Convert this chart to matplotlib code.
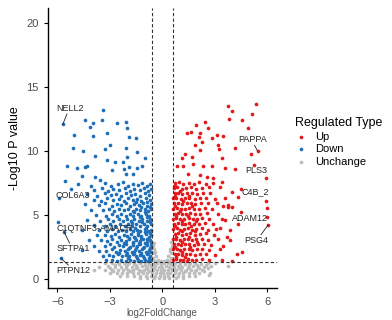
import matplotlib
matplotlib.use("Agg")
import matplotlib.pyplot as plt
import numpy as np

plt.rcParams['font.family'] = ['Liberation Sans', 'DejaVu Sans']

# thresholds
fc_cut = 0.585
p_cut = 1.3

# Down regulated points (log2FC, -log10 p)
down_pts = [
    (-5.69, 12.1), (-3.37, 13.2), (-4.42, 12.4), (-3.94, 12.2), (-4.13, 11.9), (-3.43, 12.4),
    (-2.61, 12.2), (-2.07, 12.3), (-2.0, 11.8), (-5.05, 11.25), (-3.94, 11.2), (-3.14, 11.45),
    (-1.89, 11.1), (-1.5, 11.0), (-5.12, 10.2), (-4.51, 10.0), (-2.99, 10.5), (-3.26, 10.15),
    (-2.07, 10.2), (-1.46, 9.95), (-3.85, 9.6), (-2.0, 9.53), (-0.99, 9.43), (-5.43, 8.8),
    (-4.89, 8.65), (-4.42, 8.75), (-3.18, 9.27), (-2.7, 9.17), (-2.23, 9.17), (-1.89, 8.75),
    (-2.19, 8.6), (-1.46, 8.65), (-1.16, 8.8), (-2.89, 8.5), (-2.07, 8.2), (-1.69, 8.22),
    (-4.61, 8.02), (-3.85, 7.97), (-3.56, 7.7), (-5.56, 7.66), (-4.29, 8.8),
    (-4.8, 7.45), (-4.1, 7.3), (-3.3, 7.5), (-2.95, 7.25), (-2.55, 7.4), (-2.25, 7.55),
    (-1.95, 7.3), (-1.7, 7.45), (-1.4, 7.35), (-1.15, 7.5), (-0.9, 7.3), (-0.7, 7.45),
    (-5.2, 7.05), (-3.9, 6.95), (-3.45, 7.1), (-3.1, 6.9), (-2.8, 7.05), (-2.45, 6.95),
    (-2.15, 7.1), (-1.85, 6.9), (-1.6, 7.05), (-1.3, 6.95), (-1.05, 7.1), (-0.8, 6.9), (-0.65, 7.05),
    (-4.3, 6.6), (-3.75, 6.5), (-3.3, 6.7), (-2.95, 6.55), (-2.65, 6.65), (-2.35, 6.5),
    (-2.05, 6.7), (-1.8, 6.55), (-1.55, 6.65), (-1.25, 6.5), (-1.0, 6.7), (-0.75, 6.55),
    (-5.9, 6.3), (-3.9, 6.2), (-3.5, 6.1), (-3.15, 6.3), (-2.8, 6.15), (-2.5, 6.25), (-2.2, 6.1),
    (-1.95, 6.3), (-1.7, 6.15), (-1.45, 6.25), (-1.2, 6.1), (-0.95, 6.3), (-0.7, 6.15),
    (-4.4, 5.85), (-3.6, 5.75), (-3.25, 5.9), (-2.9, 5.7), (-2.6, 5.85), (-2.35, 5.75),
    (-2.1, 5.9), (-1.85, 5.7), (-1.6, 5.85), (-1.35, 5.75), (-1.1, 5.9), (-0.85, 5.7), (-0.65, 5.85),
    (-4.1, 5.4), (-3.4, 5.35), (-3.05, 5.5), (-2.75, 5.3), (-2.45, 5.45), (-2.2, 5.35),
    (-1.95, 5.5), (-1.7, 5.3), (-1.5, 5.45), (-1.25, 5.35), (-1.0, 5.5), (-0.8, 5.3), (-0.62, 5.45),
    (-3.8, 5.0), (-3.2, 4.95), (-2.9, 5.1), (-2.6, 4.9), (-2.35, 5.05), (-2.1, 4.95),
    (-1.85, 5.1), (-1.65, 4.9), (-1.4, 5.05), (-1.2, 4.95), (-0.95, 5.1), (-0.75, 4.9),
    (-5.98, 4.48), (-4.3, 4.6), (-3.55, 4.55), (-3.1, 4.7), (-2.8, 4.5), (-2.5, 4.65),
    (-2.25, 4.55), (-2.0, 4.7), (-1.8, 4.5), (-1.6, 4.65), (-1.35, 4.55), (-1.15, 4.7),
    (-0.9, 4.5), (-0.68, 4.65),
    (-3.9, 4.2), (-3.3, 4.15), (-3.0, 4.3), (-2.7, 4.1), (-2.4, 4.25), (-2.15, 4.15),
    (-1.95, 4.3), (-1.75, 4.1), (-1.5, 4.25), (-1.3, 4.15), (-1.05, 4.3), (-0.85, 4.1), (-0.63, 4.25),
    (-4.6, 3.85), (-3.6, 3.8), (-3.15, 3.75), (-2.85, 3.9), (-2.55, 3.7), (-2.3, 3.85),
    (-2.05, 3.75), (-1.85, 3.9), (-1.65, 3.7), (-1.45, 3.85), (-1.25, 3.75), (-1.0, 3.9),
    (-0.8, 3.7), (-0.62, 3.85),
    (-5.62, 3.67), (-3.75, 3.4), (-3.3, 3.45), (-2.95, 3.35), (-2.7, 3.5), (-2.45, 3.3),
    (-2.2, 3.45), (-2.0, 3.35), (-1.8, 3.5), (-1.6, 3.3), (-1.4, 3.45), (-1.2, 3.35),
    (-0.95, 3.5), (-0.75, 3.3), (-0.62, 3.45),
    (-4.2, 3.0), (-3.5, 3.05), (-3.15, 2.95), (-2.85, 3.1), (-2.6, 2.9), (-2.35, 3.05),
    (-2.1, 2.95), (-1.9, 3.1), (-1.7, 2.9), (-1.5, 3.05), (-1.3, 2.95), (-1.1, 3.1),
    (-0.9, 2.9), (-0.7, 3.05),
    (-3.9, 2.6), (-3.3, 2.55), (-3.0, 2.7), (-2.75, 2.5), (-2.5, 2.65), (-2.25, 2.55),
    (-2.05, 2.7), (-1.85, 2.5), (-1.65, 2.65), (-1.45, 2.55), (-1.25, 2.7), (-1.05, 2.5),
    (-0.85, 2.65), (-0.65, 2.55),
    (-4.6, 2.25), (-3.6, 2.2), (-3.2, 2.15), (-2.9, 2.3), (-2.65, 2.1), (-2.4, 2.25),
    (-2.15, 2.15), (-1.95, 2.3), (-1.75, 2.1), (-1.55, 2.25), (-1.35, 2.15), (-1.15, 2.3),
    (-0.95, 2.1), (-0.75, 2.25), (-0.62, 2.1),
    (-3.4, 1.8), (-3.05, 1.85), (-2.8, 1.75), (-2.55, 1.9), (-2.3, 1.8), (-2.1, 1.85),
    (-1.9, 1.75), (-1.7, 1.9), (-1.5, 1.8), (-1.3, 1.85), (-1.1, 1.75), (-0.9, 1.9), (-0.7, 1.8),
    (-5.8, 1.6), (-3.2, 1.45), (-2.9, 1.5), (-2.6, 1.4), (-2.35, 1.5), (-2.1, 1.4),
    (-1.85, 1.5), (-1.6, 1.4), (-1.4, 1.5), (-1.2, 1.4), (-1.0, 1.5), (-0.8, 1.4), (-0.64, 1.5),
    (-1.75, 4.4), (-1.55, 4.0), (-1.15, 4.45), (-0.95, 4.0), (-0.72, 4.45), (-1.4, 3.6),
    (-1.0, 3.65), (-0.7, 3.6), (-1.9, 3.2), (-1.55, 3.2), (-1.2, 3.2), (-0.85, 3.15),
    (-0.65, 2.8), (-1.0, 2.8), (-1.35, 2.8), (-1.7, 2.8), (-2.2, 2.8), (-0.7, 2.4),
    (-1.1, 2.4), (-1.5, 2.4), (-1.9, 2.4), (-0.8, 2.0), (-1.2, 2.0), (-1.6, 2.0),
    (-2.0, 2.0), (-2.5, 2.0), (-0.75, 1.62), (-1.05, 1.62), (-1.45, 1.62), (-1.95, 1.62),
    (-0.9, 4.8), (-1.3, 4.8), (-1.0, 5.2), (-1.6, 5.2), (-0.7, 5.6), (-1.2, 5.6),
    (-0.9, 6.0), (-1.5, 6.0),
]

# Up regulated points
up_pts = [
    (5.39, 13.7), (3.77, 13.5), (3.97, 13.1), (5.13, 12.9), (3.83, 12.5), (4.54, 12.4),
    (4.91, 11.8), (1.93, 12.0), (2.44, 12.3), (2.63, 11.8), (1.39, 11.45), (1.62, 11.5),
    (2.15, 11.45), (2.82, 11.0), (3.11, 11.25), (3.49, 11.2), (2.1, 11.1), (1.85, 10.5),
    (2.25, 10.7), (3.2, 10.5), (4.15, 10.2), (2.15, 10.05), (1.3, 9.74), (1.68, 9.53),
    (1.11, 9.43), (3.26, 10.15), (5.45, 10.0), (5.1, 9.8), (3.39, 9.43), (0.82, 8.8),
    (1.2, 8.85), (1.77, 9.0), (2.34, 8.85), (2.82, 8.85), (4.15, 8.6), (3.58, 8.65),
    (5.26, 8.9), (5.91, 7.87), (1.49, 8.22), (2.15, 8.13), (2.54, 7.97), (2.91, 7.92),
    (3.39, 7.55), (4.5, 7.0), (4.0, 6.82), (4.34, 6.43), (5.91, 6.12), (5.97, 5.52),
    (3.74, 5.6), (4.0, 5.6), (4.5, 5.26), (6.02, 4.82), (6.06, 4.22), (4.34, 4.3),
    (3.87, 3.83), (3.68, 3.3), (3.3, 7.2), (3.49, 5.7), (3.77, 5.76), (3.11, 5.91), (2.54, 5.13),
    (4.54, 2.13), (3.97, 1.35), (4.25, 1.9), (3.5, 2.6), (3.9, 3.0), (3.3, 4.0), (3.6, 4.6),
    (0.7, 7.5), (0.95, 7.55), (1.2, 7.45), (1.5, 7.5), (1.8, 7.4), (2.1, 7.55), (2.5, 7.45), (2.9, 7.5),
    (0.65, 7.1), (0.85, 7.15), (1.1, 7.05), (1.35, 7.1), (1.65, 7.15), (1.95, 7.05), (2.3, 7.1),
    (2.7, 7.15),
    (0.7, 6.7), (0.9, 6.75), (1.15, 6.65), (1.4, 6.7), (1.7, 6.75), (2.0, 6.65), (2.35, 6.7), (2.75, 6.75),
    (0.62, 6.3), (0.8, 6.35), (1.05, 6.25), (1.3, 6.3), (1.55, 6.35), (1.85, 6.25), (2.15, 6.3),
    (2.5, 6.35), (3.0, 6.25), (3.6, 6.3),
    (0.68, 5.9), (0.9, 5.95), (1.15, 5.85), (1.4, 5.9), (1.65, 5.95), (1.9, 5.85), (2.2, 5.9), (2.6, 5.95),
    (0.63, 5.5), (0.82, 5.55), (1.05, 5.45), (1.3, 5.5), (1.55, 5.55), (1.8, 5.45), (2.1, 5.5), (2.45, 5.55),
    (2.85, 5.45),
    (0.7, 5.1), (0.9, 5.15), (1.1, 5.05), (1.35, 5.1), (1.6, 5.15), (1.85, 5.05), (2.15, 5.1), (3.2, 5.1),
    (0.62, 4.7), (0.8, 4.75), (1.0, 4.65), (1.25, 4.7), (1.5, 4.75), (1.75, 4.65), (2.0, 4.7),
    (2.3, 4.75), (2.7, 4.65), (3.4, 4.7),
    (0.68, 4.3), (0.88, 4.35), (1.1, 4.25), (1.3, 4.3), (1.55, 4.35), (1.8, 4.25), (2.1, 4.3),
    (2.45, 4.35), (2.9, 4.25),
    (0.63, 3.9), (0.82, 3.95), (1.02, 3.85), (1.25, 3.9), (1.48, 3.95), (1.7, 3.85), (1.95, 3.9),
    (2.25, 3.95), (2.6, 3.85), (3.1, 3.9),
    (0.7, 3.5), (0.9, 3.55), (1.1, 3.45), (1.35, 3.5), (1.6, 3.55), (1.85, 3.45), (2.15, 3.5),
    (2.5, 3.55), (2.95, 3.45),
    (0.62, 3.1), (0.8, 3.15), (1.0, 3.05), (1.22, 3.1), (1.45, 3.15), (1.7, 3.05), (1.95, 3.1),
    (2.25, 3.15), (2.6, 3.05), (3.2, 3.1),
    (0.68, 2.7), (0.88, 2.75), (1.08, 2.65), (1.3, 2.7), (1.55, 2.75), (1.8, 2.65), (2.05, 2.7),
    (2.4, 2.75), (2.8, 2.65),
    (0.63, 2.3), (0.82, 2.35), (1.02, 2.25), (1.25, 2.3), (1.5, 2.35), (1.72, 2.25), (1.98, 2.3),
    (2.3, 2.35), (2.7, 2.25), (3.3, 2.3),
    (0.7, 1.9), (0.9, 1.95), (1.1, 1.85), (1.35, 1.9), (1.6, 1.95), (1.85, 1.85), (2.15, 1.9),
    (2.5, 1.95), (3.0, 1.85),
    (0.62, 1.5), (0.8, 1.55), (1.0, 1.45), (1.2, 1.5), (1.45, 1.55), (1.7, 1.45), (1.95, 1.5),
    (2.3, 1.55), (2.7, 1.45), (3.39, 1.48),
    (0.75, 7.3), (1.0, 6.9), (0.75, 6.5), (1.2, 6.1), (0.75, 5.7), (1.0, 5.3), (0.8, 4.9),
    (1.15, 4.5), (0.75, 4.1), (1.15, 3.7), (0.8, 3.3), (1.1, 2.9), (0.75, 2.5), (1.15, 2.1),
    (0.8, 1.7), (1.3, 1.7), (1.6, 2.5), (1.5, 3.3), (1.65, 4.1), (1.45, 4.9), (1.7, 5.7),
    (1.5, 6.5), (1.9, 3.7), (2.0, 2.9), (1.95, 4.5), (1.4, 1.35),
]

# Unchanged points
same_pts = [
    (-3.3, 1.2), (-2.9, 1.22), (-2.5, 1.18), (-2.2, 1.2), (-1.9, 1.22), (-1.6, 1.18), (-1.3, 1.2),
    (-1.0, 1.22), (-0.75, 1.18), (-0.5, 1.2), (-0.3, 1.22), (-0.1, 1.18), (0.1, 1.2), (0.3, 1.22),
    (0.5, 1.18), (0.75, 1.2), (1.0, 1.22), (1.3, 1.18), (1.6, 1.2), (1.9, 1.22), (2.2, 1.18),
    (2.6, 1.2), (3.0, 1.22),
    (-3.6, 0.95), (-3.1, 0.97), (-2.7, 0.93), (-2.35, 0.95), (-2.05, 0.97), (-1.75, 0.93),
    (-1.45, 0.95), (-1.15, 0.97), (-0.9, 0.93), (-0.65, 0.95), (-0.4, 0.97), (-0.2, 0.93),
    (0.0, 0.95), (0.2, 0.97), (0.4, 0.93), (0.65, 0.95), (0.9, 0.97), (1.15, 0.93), (1.45, 0.95),
    (1.75, 0.97), (2.05, 0.93), (2.4, 0.95), (2.8, 0.97), (3.77, 1.0),
    (-3.9, 0.7), (-3.3, 0.72), (-2.9, 0.68), (-2.55, 0.7), (-2.25, 0.72), (-1.95, 0.68),
    (-1.65, 0.7), (-1.35, 0.72), (-1.05, 0.68), (-0.8, 0.7), (-0.55, 0.72), (-0.3, 0.68),
    (-0.1, 0.7), (0.1, 0.72), (0.3, 0.68), (0.55, 0.7), (0.8, 0.72), (1.05, 0.68), (1.35, 0.7),
    (1.65, 0.72), (1.95, 0.68), (2.3, 0.7), (2.73, 0.45),
    (-3.0, 0.45), (-2.6, 0.47), (-2.3, 0.43), (-2.0, 0.45), (-1.7, 0.47), (-1.4, 0.43),
    (-1.1, 0.45), (-0.85, 0.47), (-0.6, 0.43), (-0.35, 0.45), (-0.15, 0.47), (0.05, 0.43),
    (0.25, 0.45), (0.45, 0.47), (0.7, 0.43), (0.95, 0.45), (1.2, 0.47), (1.5, 0.43), (1.8, 0.45),
    (2.1, 0.47), (2.69, 0.31),
    (-2.4, 0.2), (-2.0, 0.22), (-1.6, 0.18), (-1.25, 0.2), (-0.95, 0.22), (-0.65, 0.18),
    (-0.4, 0.2), (-0.15, 0.22), (0.1, 0.18), (0.35, 0.2), (0.6, 0.22), (0.9, 0.18), (1.2, 0.2),
    (1.55, 0.22), (1.9, 0.18),
    (-1.3, 0.05), (-0.9, 0.04), (-0.5, 0.06), (-0.2, 0.05), (0.1, 0.04), (0.4, 0.06), (0.8, 0.05),
    (1.2, 0.04),
    (-2.7, 1.08), (-2.0, 1.08), (-1.5, 1.08), (-1.0, 1.08), (-0.6, 1.08), (0.6, 1.08), (1.0, 1.08),
    (1.5, 1.08), (2.0, 1.08), (2.5, 1.08),
    (-3.0, 0.82), (-2.1, 0.82), (-1.5, 0.82), (-0.95, 0.82), (-0.45, 0.82), (0.45, 0.82),
    (0.95, 0.82), (1.5, 0.82), (2.1, 0.82), (2.6, 0.82),
    (-2.8, 0.58), (-1.85, 0.58), (-1.2, 0.58), (-0.7, 0.58), (0.0, 0.58), (0.7, 0.58), (1.3, 0.58),
    (1.85, 0.58), (2.4, 0.58),
    (-0.55, 2.6), (-0.45, 2.3), (-0.5, 2.0), (-0.35, 1.8), (-0.52, 1.6), (-0.25, 1.5), (-0.4, 1.4),
    (0.55, 2.6), (0.45, 2.35), (0.5, 2.0), (0.35, 1.75), (0.52, 1.6), (0.25, 1.5), (0.4, 1.4),
    (-0.1, 1.35), (0.1, 1.4), (-0.5, 2.8), (0.5, 2.85), (-0.42, 2.1), (0.42, 2.15),
]

# gene labels: name, point, text position, draw connector
gene_names = ["NELL2", "COL6A3", "C1QTNF3-AMACR", "SFTPA1", "PTPN12",
              "PAPPA", "PLS3", "C4B_2", "ADAM12", "PSG4"]
gene_pts = [(-5.69, 12.1), (-5.9, 6.3), (-5.98, 4.48), (-5.62, 3.67), (-5.8, 1.6),
            (5.45, 10.0), (5.91, 7.87), (4.5, 7.0), (6.02, 4.82), (6.06, 4.22)]
gene_txt = [(-5.3, 13.35), (-5.1, 6.55), (-3.87, 3.9), (-5.1, 2.34), (-5.1, 0.62),
            (5.17, 10.9), (5.4, 8.5), (5.33, 6.8), (5.0, 4.75), (5.38, 3.0)]
gene_seg = [True, False, False, True, True, True, False, False, False, True]

col_up = "#E31A1C"
col_down = "#1F6FB8"
col_same = "#BDBDBD"

down = np.array(down_pts)
up = np.array(up_pts)
same = np.array(same_pts)

fig = plt.figure(figsize=(3.92, 3.2), dpi=100)
ax = fig.add_axes([0.122, 0.101, 0.584, 0.874])

ax.scatter(same[:, 0], same[:, 1], s=7, c=col_same, linewidths=0, zorder=2)
ax.scatter(down[:, 0], down[:, 1], s=7, c=col_down, linewidths=0, zorder=3)
ax.scatter(up[:, 0], up[:, 1], s=7, c=col_up, linewidths=0, zorder=3)

for xv in (-fc_cut, fc_cut):
    ax.axvline(xv, color="#333333", lw=0.8, ls=(0, (3, 2)), zorder=4)
ax.axhline(p_cut, color="#333333", lw=0.8, ls=(0, (3, 2)), zorder=4)

for name, p, t, seg in zip(gene_names, gene_pts, gene_txt, gene_seg):
    ax.text(t[0], t[1], name, fontsize=6.5, color="#222222", ha="center", va="center", zorder=5)
    if seg:
        ty = t[1] - 0.45 if p[1] < t[1] else t[1] + 0.45
        ax.plot([t[0] + (p[0] - t[0]) * 0.4, p[0]], [ty, p[1]], color="#222222", lw=0.6, zorder=5)

ax.set_xlim(-6.55, 6.55)
ax.set_ylim(-0.7, 21.2)
ax.set_xticks([-6, -3, 0, 3, 6])
ax.set_yticks([0, 5, 10, 15, 20])
for s in ("top", "right"):
    ax.spines[s].set_visible(False)
for s in ("left", "bottom"):
    ax.spines[s].set_linewidth(1.0)
ax.tick_params(labelsize=8, labelcolor="#4D4D4D", length=3, width=0.8)
ax.set_ylabel("-Log10 P value", fontsize=9, labelpad=4)
ax.set_xlabel("log2FoldChange", fontsize=7, color="#555555", labelpad=1)

h1 = ax.scatter([], [], s=7, c=col_up, linewidths=0)
h2 = ax.scatter([], [], s=7, c=col_down, linewidths=0)
h3 = ax.scatter([], [], s=7, c=col_same, linewidths=0)
leg = ax.legend([h1, h2, h3], ["Up", "Down", "Unchange"], title="Regulated Type",
                loc="upper left", bbox_to_anchor=(0.752, 0.635), bbox_transform=fig.transFigure,
                frameon=False, fontsize=8, title_fontsize=9, handletextpad=0.6,
                labelspacing=0.25, borderaxespad=0, borderpad=0, alignment="left",
                handlelength=1.2)

fig.savefig("out.png", dpi=100)
